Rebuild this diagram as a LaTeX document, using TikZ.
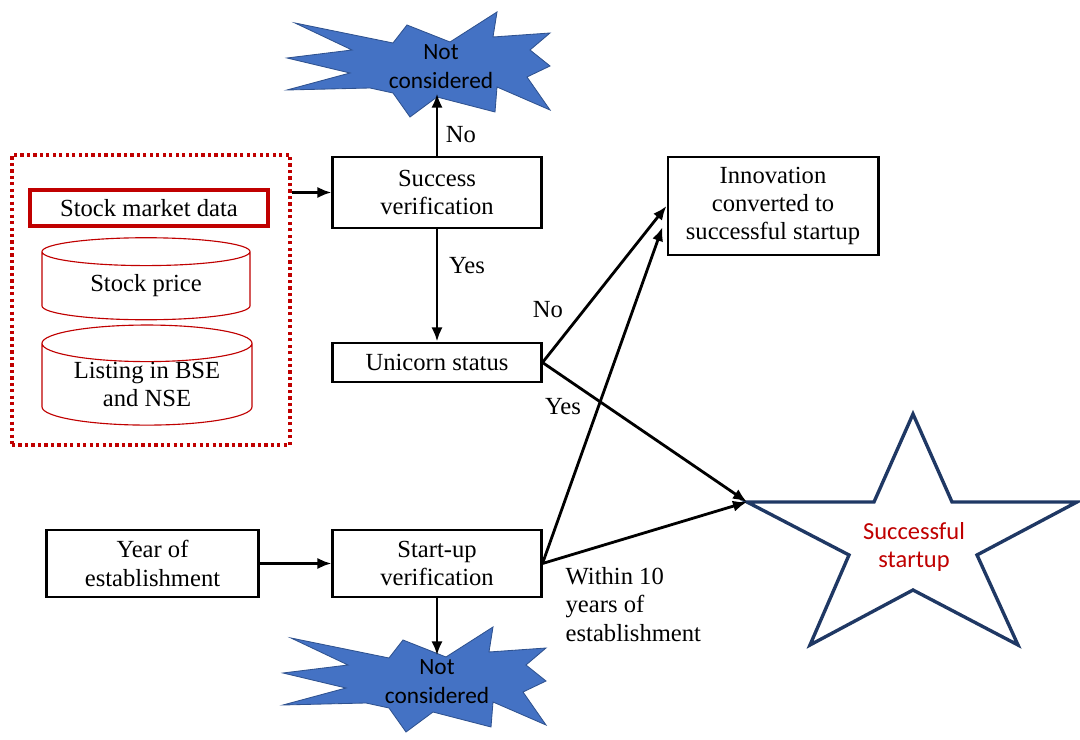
\documentclass[tikz,border=0pt]{standalone}
\usepackage{fontspec}
\setmainfont{Liberation Serif}
\newfontfamily\calibfont{Carlito}
\usetikzlibrary{shapes.geometric,arrows.meta,positioning,fit,calc}
\definecolor{darkred}{HTML}{C00000}
\definecolor{burstblue}{HTML}{4472C4}
\definecolor{burstedge}{HTML}{2F528F}
\definecolor{starnavy}{HTML}{1F3864}
\tikzset{
  burst/.pic={
    \draw[draw=burstedge, fill=burstblue, line width=0.6pt]
      (-120,-39) -- (-22,-19) -- (-8,-37) -- (35,-20) -- (82,-50) -- (78,-25)
      -- (135,-29) -- (115,-12) -- (135,4) -- (112,15) -- (135,48) -- (82,25)
      -- (80,50) -- (22,35) -- (-5,55) -- (-22,31) -- (-45,26) -- (-128,28)
      -- (-65,11) -- (-128,-4) -- (-63,-12) -- cycle;
  }
}

\begin{document}
\begin{tikzpicture}[
  x=0.025cm, y=-0.025cm,
  font=\fontsize{17.5}{20}\selectfont,
  box/.style={draw, line width=2.1pt, fill=white, align=center, inner sep=2pt},
  dbase/.style={draw=darkred, line width=0.8pt, fill=white, cylinder, shape border rotate=90, aspect=0.25, align=center, inner sep=0pt},
  arr/.style={-{Latex[length=10pt,width=8pt]}, line width=2pt},
  lbl/.style={inner sep=1pt, align=left},
  nctext/.style={font=\calibfont\fontsize{16.6}{20.6}\selectfont, align=center, inner sep=3pt}
]
\useasboundingbox (0,0) rectangle (1080,740);

%--- stock market data group (left) ---
\node[draw=darkred, line width=2.3pt, dash pattern=on 2.3pt off 2.3pt, fit={(12,155) (290,445)}, inner sep=0pt] (smbox) {};
\node[box, draw=darkred, line width=2.6pt, minimum width=5.95cm, minimum height=0.9cm] (smd) at (149,208) {Stock market data};
\node[dbase, minimum width=5.2cm, minimum height=2.05cm] (price) at (146,286) {Stock price};
\node[dbase, minimum width=5.25cm, minimum height=2.125cm] (listing) at (147,384.5) {Listing in BSE\\and NSE};

%--- main column ---
\node[box, minimum width=5.2cm, minimum height=1.775cm] (sv) at (437,192.5) {Success\\verification};
\node[box, minimum width=5.2cm, minimum height=0.975cm] (uni) at (437,362.5) {Unicorn status};
\node[box, minimum width=5.2cm, minimum height=1.675cm] (suv) at (437,563.5) {Start-up\\verification};
\node[box, minimum width=5.275cm, minimum height=1.675cm] (year) at (152.5,563.5) {Year of\\establishment};
\node[box, minimum width=5.25cm, minimum height=2.45cm] (inno) at (773,206) {Innovation\\converted to\\successful startup};

%--- not considered bursts ---
\pic at (415,62) {burst};
\node[nctext] (nc1) at (441,67) {Not\\considered};
\pic at (411,677) {burst};
\node[nctext] (nc2) at (437,682) {Not\\considered};

%--- successful startup star ---
\draw[draw=starnavy, line width=2.4pt, fill=white]
  (913,414) -- (952,502) -- (1077,502) -- (977,555) -- (1018,645) -- (913,590)
  -- (810,645) -- (849,555) -- (747,502) -- (874,502) -- cycle;
\coordinate (starL) at (747,502);
\node[font=\calibfont\fontsize{17.4}{20}\selectfont, text=darkred, align=center] (ss) at (914,547) {Successful\\startup};

%--- connectors ---
\draw[arr] (sv.west -| smbox.east) -- (sv.west);
\draw[arr] (sv.north) -- (sv.north |- nc1.south);
\draw[arr] (sv.south) -- (uni.north);
\draw[arr] (uni.east) -- (inno.west);
\draw[arr] (uni.east) -- (starL);
\draw[arr] (year.east) -- (suv.west);
\draw[arr] (suv.east) -- ($(inno.west)+(-4,21)$);
\draw[arr] (suv.east) -- (starL);
\draw[arr] (suv.south) -- (suv.south |- nc2.north);

%--- labels ---
\node[lbl] (lno1) at (461,135) {No};
\node[lbl] (lyes1) at (467,266) {Yes};
\node[lbl] (lno2) at (548,310) {No};
\node[lbl] (lyes2) at (563,407) {Yes};
\node[lbl, anchor=north west] (lwithin) at (564,566) {Within 10\\years of\\establishment};
\end{tikzpicture}
\end{document}
